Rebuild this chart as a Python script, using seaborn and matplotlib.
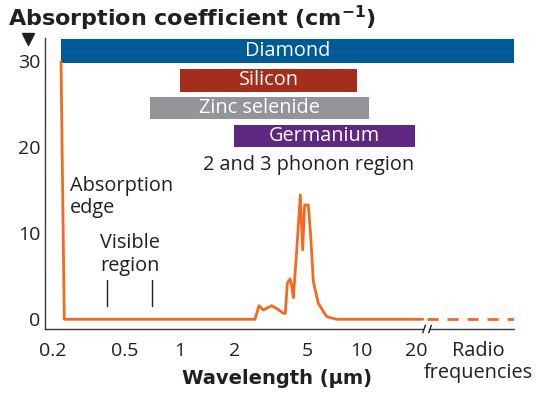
import matplotlib
matplotlib.use("Agg")
import matplotlib.pyplot as plt
import matplotlib.ticker as mticker
import seaborn as sns
import pandas as pd

# absorption curve, wavelength in µm and coefficient in cm-1
wavelength = [0.2223, 0.2317, 2.591, 2.725, 2.879, 3.200, 3.438, 3.709, 3.804, 3.901,
              4.036, 4.121, 4.210, 4.390, 4.599, 4.737, 4.859, 5.089, 5.242, 5.423,
              5.775, 6.418, 7.285, 21.7]
absorption = [29.9, 0.0, 0.0, 1.58, 1.08, 1.58, 1.2, 0.69, 0.69, 4.18,
              4.68, 3.98, 2.51, 7.86, 14.44, 8.05, 13.28, 13.28, 9.79, 4.38,
              1.85, 0.31, 0.0, 0.0]

# radio part (dashed) past the axis break
radio_wavelength = [22.9, 68.8]
radio_absorption = [0.0, 0.0]

# transmission windows of the materials (µm)
materials = ["Diamond", "Silicon", "Zinc selenide", "Germanium"]
window_start = [0.2223, 1.0, 0.686, 1.99]
window_end = [68.8, 9.46, 11.01, 19.6]

x_ticks = [0.2, 0.5, 1, 2, 5, 10, 20]
x_tick_labels = ["0.2", "0.5", "1", "2", "5", "10", "20"]
x_minor = [0.3, 0.4, 0.6, 0.7, 0.8, 0.9, 3, 4, 6, 7, 8, 9]
y_ticks = [0, 10, 20, 30]
visible_limits = [0.4, 0.7]

# layout / style
BAR_Y = [31.15, 27.75, 24.54, 21.27]
BAR_H = [2.83, 2.64, 2.62, 2.6]
BAR_COLORS = ["#005a96", "#a52d1c", "#939598", "#5e2781"]
ORANGE = "#f26a21"
DARK = "#231f20"
AXIS = "#3a3a3a"
XLIM = (0.1815, 68.8)
YLIM = (-1.127, 32.67)
BREAK_AT = [21.7, 23.4]
FS = 14.3
BOLD_FONT = ["DejaVu Sans"]

sns.set_theme(style="white")
plt.rcParams["font.family"] = ["Open Sans", "DejaVu Sans"]
plt.rcParams["mathtext.fontset"] = "dejavusans"

fig = plt.figure(figsize=(5.5, 3.93), dpi=100)
ax = fig.add_axes([45 / 550, 1 - 329 / 393, 469 / 550, 291 / 393])
ax.set_xscale("log")

# material bars
for name, x0, x1, yc, h, c in zip(materials, window_start, window_end, BAR_Y, BAR_H, BAR_COLORS):
    ax.barh(yc, x1 - x0, left=x0, height=h, color=c, edgecolor="none", zorder=2)
    ax.text((x0 * x1) ** 0.5, yc, name, color="white", fontsize=FS,
            ha="center", va="center", zorder=3)

curve = pd.DataFrame({"wavelength": wavelength, "absorption": absorption})
radio = pd.DataFrame({"wavelength": radio_wavelength, "absorption": radio_absorption})
sns.lineplot(data=curve, x="wavelength", y="absorption", ax=ax, color=ORANGE,
             lw=2.0, sort=False, zorder=4)
sns.lineplot(data=radio, x="wavelength", y="absorption", ax=ax, color=ORANGE,
             lw=2.0, zorder=4, dashes=False)
ax.lines[-1].set_dashes([4, 3.2])

ax.set_xlim(*XLIM)
ax.set_ylim(*YLIM)

ax.xaxis.set_major_locator(mticker.FixedLocator(x_ticks))
ax.xaxis.set_major_formatter(mticker.FixedFormatter(x_tick_labels))
ax.xaxis.set_minor_locator(mticker.FixedLocator(x_minor))
ax.xaxis.set_minor_formatter(mticker.NullFormatter())
ax.set_yticks(y_ticks)
ax.tick_params(axis="both", which="major", direction="in", length=6.7, width=0.9,
               color=AXIS, labelsize=14, labelcolor=DARK)
ax.tick_params(axis="x", which="major", pad=9)
ax.tick_params(axis="y", which="major", pad=3.5)
ax.tick_params(axis="x", which="minor", direction="in", length=2.6, width=0.9, color=AXIS)

for side in ["top", "right"]:
    ax.spines[side].set_visible(False)
for side in ["left", "bottom"]:
    ax.spines[side].set_color(AXIS)
    ax.spines[side].set_linewidth(1.0)
ax.spines["bottom"].set_bounds(XLIM[0], BREAK_AT[0])

# axis break and the rest of the axis
xt = ax.get_xaxis_transform()
ax.plot([BREAK_AT[1], XLIM[1]], [0, 0], transform=xt, color=AXIS, lw=1.0, clip_on=False)
for b in BREAK_AT:
    ax.plot([b, b * 1.032], [-0.013, 0.013], transform=xt, color=DARK, lw=1.0, clip_on=False)

# visible region markers
for v in visible_limits:
    ax.plot([v, v], [1.5, 4.6], color=DARK, lw=1.0)

ax.text(0.249, 15.49, "Absorption", fontsize=FS, color=DARK, va="center", ha="left")
ax.text(0.249, 12.93, "edge", fontsize=FS, color=DARK, va="center", ha="left")
ax.text(0.364, 8.86, "Visible", fontsize=FS, color=DARK, va="center", ha="left")
ax.text(0.364, 6.19, "region", fontsize=FS, color=DARK, va="center", ha="left")
ax.text(5.13, 17.9, "2 and 3 phonon region", fontsize=FS, color=DARK, va="center", ha="center")

ax.text(43.6, -0.0756, "Radio", transform=xt, fontsize=FS, color=DARK, ha="center", va="center")
ax.text(43.6, -0.151, "frequencies", transform=xt, fontsize=FS, color=DARK, ha="center", va="center")

ax.set_xlabel("Wavelength (µm)", fontsize=14, fontweight="bold", color=DARK,
              family=BOLD_FONT)
ax.xaxis.set_label_coords((277 - 45) / 469, (329 - 369) / 291)
ax.set_ylabel("")

fig.text(8 / 550, 1 - 18 / 393, r"Absorption coefficient (cm$^{\mathbf{-1}}$)",
         fontsize=16, fontweight="bold", color=DARK, ha="left", va="center",
         family=BOLD_FONT)
# arrow mark above the y axis
ax.plot([-0.036], [0.9966], marker="v", markersize=8, color=DARK,
        transform=ax.transAxes, clip_on=False)

fig.savefig("out.png", dpi=100)
